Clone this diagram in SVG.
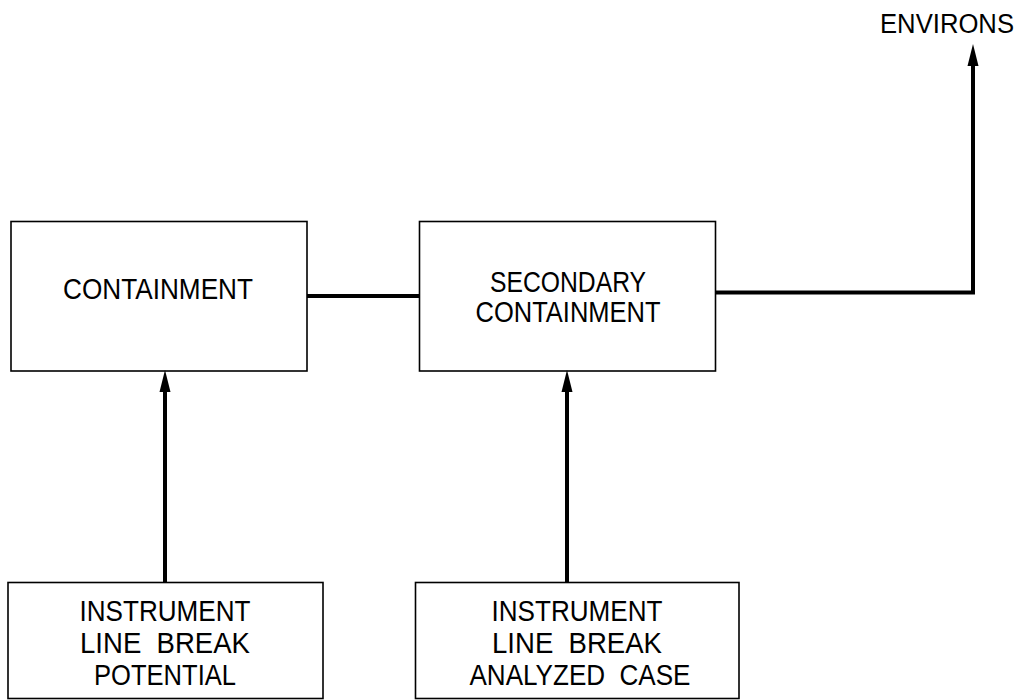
<svg xmlns="http://www.w3.org/2000/svg" width="1024" height="700" viewBox="0 0 1024 700">
<style>
.box{fill:#fff;stroke:#000;stroke-width:1.6}
.lbl{font-family:"Liberation Sans",Arial,sans-serif;font-size:29px;fill:#000;text-anchor:middle;white-space:pre}
.con{fill:none;stroke:#000;stroke-width:4}
</style>
<defs>
<marker id="ah" markerUnits="userSpaceOnUse" markerWidth="22" markerHeight="12" refX="0" refY="5" orient="auto" viewBox="0 0 20 10">
<path d="M0,0 L20,5 L0,10 z" fill="#000"/>
</marker>
</defs>
<rect width="1024" height="700" fill="#fff"/>
<g id="containment">
<rect class="box" x="11" y="221.5" width="296" height="149.5"/>
<text class="lbl" x="158" y="299" textLength="190" lengthAdjust="spacingAndGlyphs">CONTAINMENT</text>
</g>
<g id="secondary">
<rect class="box" x="419.5" y="221.5" width="296" height="149.5"/>
<text class="lbl" x="568" y="292" textLength="156" lengthAdjust="spacingAndGlyphs">SECONDARY</text>
<text class="lbl" x="568" y="322" textLength="185" lengthAdjust="spacingAndGlyphs">CONTAINMENT</text>
</g>
<g id="potential">
<rect class="box" x="8" y="582.5" width="315" height="116"/>
<text class="lbl" x="165" y="621" textLength="171" lengthAdjust="spacingAndGlyphs">INSTRUMENT</text>
<text class="lbl" x="165" y="653" textLength="170" lengthAdjust="spacingAndGlyphs" xml:space="preserve">LINE  BREAK</text>
<text class="lbl" x="165" y="685" textLength="142" lengthAdjust="spacingAndGlyphs">POTENTIAL</text>
</g>
<g id="analyzed">
<rect class="box" x="415.5" y="582.5" width="323.5" height="116"/>
<text class="lbl" x="577" y="621" textLength="171" lengthAdjust="spacingAndGlyphs">INSTRUMENT</text>
<text class="lbl" x="577" y="653" textLength="170" lengthAdjust="spacingAndGlyphs" xml:space="preserve">LINE  BREAK</text>
<text class="lbl" x="580" y="685" textLength="221" lengthAdjust="spacingAndGlyphs" xml:space="preserve">ANALYZED  CASE</text>
</g>
<g id="environs">
<text class="lbl" x="880" y="33" style="text-anchor:start;font-size:27px" textLength="134" lengthAdjust="spacingAndGlyphs">ENVIRONS</text>
</g>
<g id="connectors">
<line class="con" x1="307" y1="296" x2="419.5" y2="296"/>
<polyline class="con" points="715.5,292.5 973,292.5 973,66" marker-end="url(#ah)"/>
<line class="con" x1="165" y1="582.5" x2="165" y2="392" marker-end="url(#ah)"/>
<line class="con" x1="567" y1="582.5" x2="567" y2="392" marker-end="url(#ah)"/>
</g>
</svg>
